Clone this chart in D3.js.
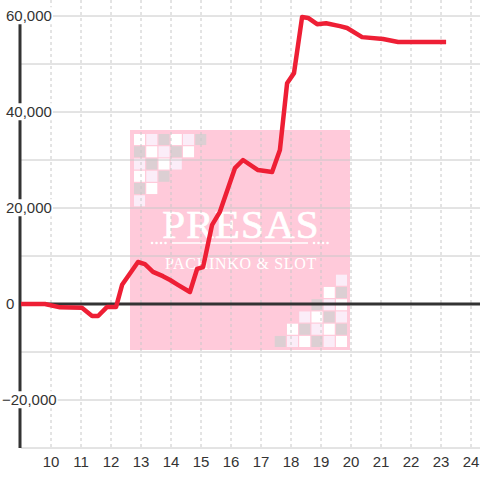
<!DOCTYPE html>
<html>
<head>
<meta charset="utf-8">
<script src="https://cdn.jsdelivr.net/npm/d3@7"></script>
<style>
  body { margin: 0; background: #fff; }
  svg { display: block; font-family: "Liberation Sans", Arial, sans-serif; }
</style>
</head>
<body>
<svg class="chart"></svg>
<script>
// hour of day
let times = [9.0, 9.8, 10.3, 11.03, 11.37, 11.57, 11.87, 12.17, 12.37, 12.9,
  13.13, 13.4, 13.73, 13.97, 14.23, 14.63, 14.87, 15.07, 15.37, 15.63,
  16.13, 16.4, 16.9, 17.37, 17.63, 17.87, 18.1, 18.37, 18.57, 18.87,
  19.17, 19.63, 19.87, 20.37, 21.07, 21.57, 23.17];
// balance
let values = [0, 0, -700, -800, -2500, -2500, -600, -600, 4000, 8750,
  8300, 6700, 5800, 5000, 4000, 2500, 7300, 7700, 16500, 19200,
  28300, 30000, 27900, 27500, 32100, 46000, 48100, 59800, 59600, 58300,
  58500, 57900, 57500, 55600, 55200, 54600, 54600];
let xTicks = [10, 11, 12, 13, 14, 15, 16, 17, 18, 19, 20, 21, 22, 23, 24];
let yTicks = [-30000, -20000, -10000, 0, 10000, 20000, 30000, 40000, 50000, 60000];
let yLabels = [-20000, 0, 20000, 40000, 60000];

let width = 480;
let height = 480;
let left = 21, bottom = 448;

let svg = d3.select(".chart")
  .attr("width", width)
  .attr("height", height);

let x = d3.scaleLinear().domain([9, 24.3]).range([left, 480]);
let y = d3.scaleLinear().domain([-30000, 60000]).range([bottom, 16]);

// watermark image (pink block with checkers and logo text)
let wm = svg.append("g");
wm.append("rect")
  .attr("x", 130).attr("y", 130)
  .attr("width", 220).attr("height", 220)
  .attr("fill", "#ffcada");

let shades = ["#ffffff", "#fbedf8", "#dccfd3"];
let cell = 12.25;
for (let r = 0; r < 6; r++) {
  for (let c = 0; c < 6 - r; c++) {
    let s = shades[((c - r) % 3 + 3) % 3];
    wm.append("rect")
      .attr("x", 134 + c * cell).attr("y", 134 + r * cell)
      .attr("width", cell - 1.2).attr("height", cell - 1.2)
      .attr("fill", s);
    wm.append("rect")
      .attr("x", 347 - (c + 1) * cell + 1.2).attr("y", 347 - (r + 1) * cell + 1.2)
      .attr("width", cell - 1.2).attr("height", cell - 1.2)
      .attr("fill", s);
  }
}

wm.append("text")
  .attr("x", 241).attr("y", 238)
  .attr("text-anchor", "middle")
  .style("font-family", "'Liberation Serif', 'DejaVu Serif', serif")
  .style("font-size", "41px")
  .style("letter-spacing", "1.2px")
  .attr("fill", "#fff")
  .attr("stroke", "#fff")
  .attr("stroke-width", 0.7)
  .text("PRESAS");

wm.append("line")
  .attr("x1", 172).attr("x2", 308)
  .attr("y1", 243).attr("y2", 243)
  .attr("stroke", "#fff").attr("stroke-width", 1.6);
[152, 156.5, 161, 165.5, 314, 318.5, 323, 327.5].forEach(function(cx) {
  wm.append("circle")
    .attr("cx", cx).attr("cy", 243).attr("r", 1.3)
    .attr("fill", "#fff");
});

wm.append("text")
  .attr("x", 241).attr("y", 269)
  .attr("text-anchor", "middle")
  .style("font-family", "'Liberation Serif', 'DejaVu Serif', serif")
  .style("font-size", "16px")
  .style("letter-spacing", "0.7px")
  .attr("fill", "#fff")
  .text("PACHINKO & SLOT");

// grid
svg.append("g")
  .selectAll("line")
  .data(yTicks)
  .enter().append("line")
  .attr("x1", left).attr("x2", width)
  .attr("y1", function(d) { return y(d); })
  .attr("y2", function(d) { return y(d); })
  .attr("stroke", "#c8c8c8")
  .attr("stroke-width", 1);

svg.append("g")
  .selectAll("line")
  .data(xTicks)
  .enter().append("line")
  .attr("x1", function(d) { return x(d); })
  .attr("x2", function(d) { return x(d); })
  .attr("y1", 0).attr("y2", bottom)
  .attr("stroke", "#c8c8c8")
  .attr("stroke-width", 1)
  .attr("stroke-dasharray", "3,3");

// axes
svg.append("line")
  .attr("x1", left - 1).attr("x2", width)
  .attr("y1", y(0)).attr("y2", y(0))
  .attr("stroke", "#333")
  .attr("stroke-width", 3);

svg.append("line")
  .attr("x1", left - 1).attr("x2", left - 1)
  .attr("y1", y(60000)).attr("y2", bottom)
  .attr("stroke", "#333")
  .attr("stroke-width", 3);

// data line
let line = d3.line()
  .x(function(d, i) { return x(times[i]); })
  .y(function(d) { return y(d); });

svg.append("path")
  .datum(values)
  .attr("d", line)
  .attr("fill", "none")
  .attr("stroke", "#ee1f35")
  .attr("stroke-width", 4.5)
  .attr("stroke-linejoin", "round");

// y labels with white backgrounds
let fmt = d3.format(",");
let yl = svg.append("g")
  .selectAll("g")
  .data(yLabels)
  .enter().append("g");

yl.append("text")
  .attr("x", function(d) { return d < 0 ? 2 : 6; })
  .attr("y", function(d) { return y(d); })
  .attr("dy", "0.35em")
  .style("font-size", "15px")
  .attr("fill", "#333")
  .text(function(d) { return fmt(d); });

yl.each(function() {
  let g = d3.select(this);
  let b = g.select("text").node().getBBox();
  g.insert("rect", "text")
    .attr("x", b.x - 1).attr("y", b.y)
    .attr("width", b.width + 2).attr("height", b.height)
    .attr("fill", "#fff");
});

// x labels
svg.append("g")
  .selectAll("text")
  .data(xTicks)
  .enter().append("text")
  .attr("x", function(d) { return x(d); })
  .attr("y", 467)
  .attr("text-anchor", "middle")
  .style("font-family", "'Liberation Sans', Arial, sans-serif")
  .style("font-size", "15px")
  .attr("fill", "#333")
  .text(function(d) { return d; });
</script>
</body>
</html>
